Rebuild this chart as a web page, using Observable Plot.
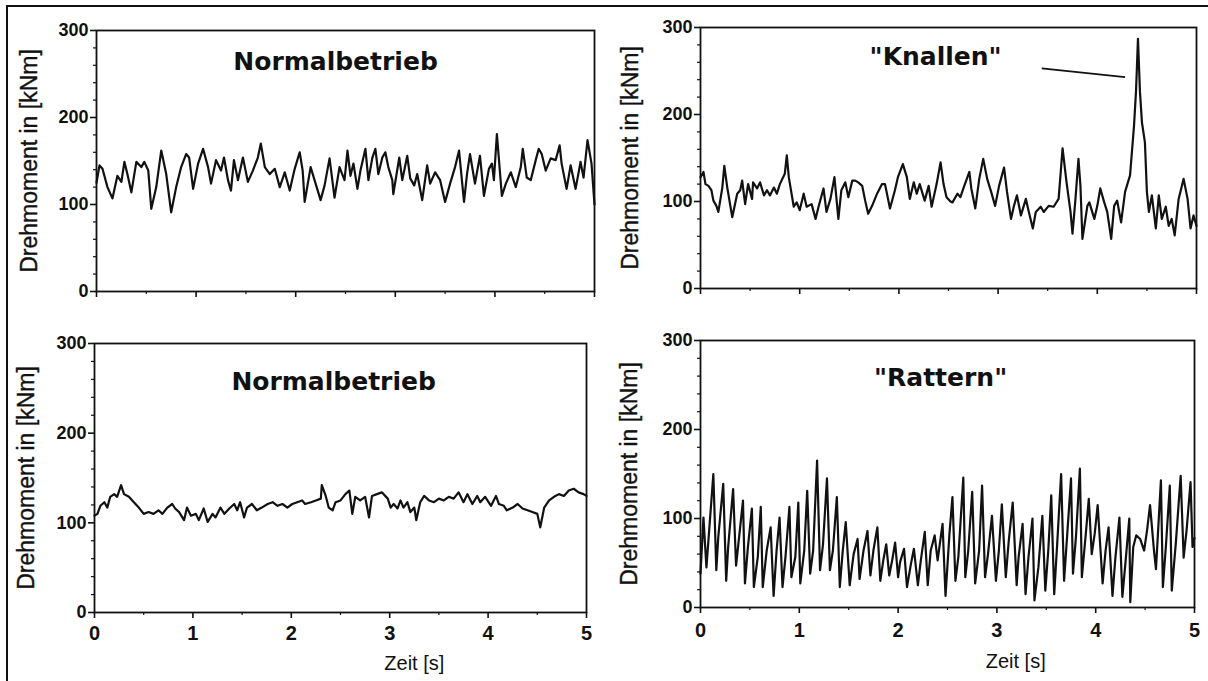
<!DOCTYPE html>
<html><head><meta charset="utf-8">
<script src="https://cdn.jsdelivr.net/npm/d3@7"></script>
<script src="https://cdn.jsdelivr.net/npm/@observablehq/plot@0.6"></script>
<style>
html,body{margin:0;padding:0;background:#fff;}
#page{position:relative;width:1208px;height:681px;overflow:hidden;background:#fff;}
.panel{position:absolute;}
.rule{position:absolute;background:#111;}
</style></head><body>
<div id="page">
<div class="rule" style="left:6px;top:5px;width:1202px;height:2px"></div>
<div class="rule" style="left:6px;top:5px;width:2px;height:676px"></div>
</div>
<script>
// ---------- data ----------
const yLabel = "Drehmoment in [kNm]";
const xLabel = "Zeit [s]";
const titles = ["Normalbetrieb", "\"Knallen\"", "Normalbetrieb", "\"Rattern\""];
const majorY = [0, 100, 200, 300];
const minorY = [20, 40, 60, 80, 120, 140, 160, 180, 220, 240, 260, 280];
const majorX = [0, 1, 2, 3, 4, 5];
const minorX = [0.5, 1.5, 2.5, 3.5, 4.5];

// top-left: Normalbetrieb
const tlTime = [0.00,0.03,0.06,0.11,0.16,0.21,0.25,0.28,0.31,0.35,0.40,0.45,0.48,0.52,0.55,0.60,0.65,0.70,0.75,0.80,0.85,0.90,0.93,0.97,1.02,1.07,1.12,1.15,1.20,1.25,1.28,1.32,1.35,1.38,1.42,1.47,1.52,1.57,1.62,1.65,1.69,1.74,1.79,1.84,1.89,1.94,1.99,2.04,2.07,2.09,2.15,2.20,2.25,2.29,2.34,2.39,2.44,2.49,2.52,
  2.55,2.58,2.62,2.65,2.70,2.73,2.77,2.80,2.83,2.87,2.90,2.93,2.97,2.98,3.04,3.07,3.12,3.15,3.19,3.22,3.27,3.32,3.35,3.40,3.45,3.50,3.55,3.60,3.64,3.69,3.72,3.75,3.80,3.85,3.89,3.94,3.97,3.99,4.02,4.07,4.11,4.16,4.21,4.26,4.28,4.32,4.36,4.41,4.44,4.47,4.51,4.56,4.61,4.65,4.67,4.72,4.76,4.81,4.86,4.89,4.93,4.97,5.00];
const tlTorque = [125,145,141,120,107,133,126,149,135,114,149,143,149,139,95,120,162,135,91,120,143,158,154,118,147,164,143,124,151,139,154,128,116,151,128,154,126,139,154,170,143,135,141,120,137,116,141,160,139,103,143,124,105,122,153,108,143,128,162,
  133,147,118,139,164,128,154,164,135,154,160,143,128,112,154,128,156,130,122,135,105,145,124,137,128,103,124,143,162,103,135,158,124,156,110,141,147,128,181,110,124,137,120,143,164,131,128,151,164,158,139,153,151,168,147,118,145,118,149,131,174,147,100];

// top-right: "Knallen"
const trTime = [0.00,0.03,0.05,0.08,0.11,0.13,0.16,0.18,0.22,0.24,0.27,0.32,0.37,0.40,0.42,0.45,0.48,0.52,0.53,0.57,0.60,0.64,0.67,0.70,0.74,0.77,0.80,0.85,0.87,0.89,0.94,0.97,1.00,1.04,1.07,1.12,1.16,1.19,1.24,1.27,1.31,1.35,1.39,1.42,1.46,1.49,1.53,1.56,1.59,1.63,1.66,1.69,1.73,1.78,1.83,1.86,1.91,1.96,1.99,2.04,2.08,2.11,2.15,2.18,2.21,2.26,2.30,2.33,2.38,2.42,2.45,2.48,2.52,
  2.54,2.59,2.62,2.65,2.71,2.73,2.77,2.81,2.85,2.89,2.93,2.97,3.01,3.06,3.09,3.13,3.16,3.19,3.23,3.28,3.31,3.35,3.38,3.43,3.46,3.51,3.56,3.61,3.65,3.69,3.73,3.75,3.78,3.81,3.83,3.85,3.90,3.92,3.97,4.00,4.03,4.07,4.10,4.14,4.17,4.20,4.24,4.28,4.33,4.37,4.39,4.41,4.43,4.45,4.48,4.50,4.52,4.55,4.59,4.62,4.65,4.69,4.72,4.75,4.78,4.82,4.87,4.91,4.94,4.97,5.00];
const trTorque = [128,134,120,118,113,101,95,88,116,141,116,82,109,113,124,97,120,103,122,115,122,107,113,107,116,109,120,132,153,128,94,99,90,109,94,97,80,94,115,88,103,128,80,113,122,105,124,124,122,118,101,86,95,109,120,120,92,113,128,143,128,103,122,109,120,101,118,94,120,145,120,105,100,
  99,109,105,115,134,115,92,126,149,126,111,95,118,139,111,80,95,107,84,103,88,69,88,94,88,95,94,103,161,122,88,63,103,149,118,57,95,99,80,95,115,99,88,57,95,101,76,111,130,187,226,287,226,191,168,111,88,107,69,107,80,94,72,80,61,103,126,103,69,84,72];
const knallenPointer = [{t1: 3.44, v1: 253, t2: 4.28, v2: 243}];

// bottom-left: Normalbetrieb
const blTime = [0.00,0.03,0.06,0.10,0.13,0.16,0.20,0.23,0.27,0.30,0.35,0.40,0.45,0.50,0.55,0.60,0.65,0.69,0.74,0.79,0.82,0.86,0.91,0.94,0.98,1.03,1.06,1.11,1.15,1.20,1.23,1.28,1.32,1.37,1.42,1.45,1.48,1.52,1.55,1.60,1.65,1.70,1.76,1.81,1.86,1.91,1.96,2.01,2.06,2.11,2.14,2.20,2.25,2.30,2.31,2.35,2.38,2.42,2.45,
  2.50,2.55,2.59,2.62,2.65,2.70,2.75,2.79,2.82,2.87,2.92,2.98,3.01,3.04,3.08,3.11,3.14,3.18,3.21,3.25,3.27,3.31,3.35,3.40,3.45,3.50,3.55,3.60,3.65,3.70,3.75,3.79,3.84,3.89,3.92,3.97,4.03,4.08,4.11,4.16,4.19,4.25,4.30,4.35,4.40,4.45,4.50,4.53,4.57,4.62,4.67,4.72,4.77,4.82,4.87,4.92,4.97,5.00];
const blTorque = [108,110,119,123,117,129,132,129,142,132,129,123,117,110,112,110,114,110,117,121,116,112,103,117,108,110,103,116,101,110,106,117,110,116,121,114,123,106,117,121,114,117,121,123,119,121,117,121,123,125,121,123,125,127,142,130,117,114,123,
  125,132,136,110,129,125,129,106,130,132,134,127,117,121,116,125,117,123,112,117,103,123,130,125,123,127,125,129,127,134,123,132,121,130,123,129,119,130,121,119,114,117,121,116,114,112,110,95,117,125,129,132,130,136,138,134,132,130];

// bottom-right: "Rattern"
const brTime = [0.00,0.03,0.06,0.13,0.16,0.18,0.23,0.26,0.28,0.33,0.36,0.43,0.45,0.48,0.52,0.54,0.58,0.61,0.63,0.67,0.71,0.74,0.77,0.80,0.83,0.86,0.90,0.92,0.96,0.99,1.01,1.05,1.08,1.11,1.14,1.18,1.21,1.24,1.28,1.31,1.34,1.38,1.41,1.44,1.47,1.51,1.55,1.59,1.61,1.65,1.69,1.72,1.75,1.79,1.82,1.85,1.88,1.91,1.94,1.97,2.00,2.02,2.06,2.09,2.13,2.16,2.20,2.23,2.27,2.30,2.33,2.37,2.40,2.45,2.48,2.52,
  2.55,2.58,2.61,2.66,2.68,2.71,2.75,2.78,2.82,2.85,2.88,2.91,2.95,2.99,3.02,3.05,3.09,3.12,3.16,3.20,3.22,3.26,3.29,3.32,3.36,3.38,3.42,3.46,3.49,3.52,3.55,3.58,3.61,3.65,3.68,3.71,3.75,3.77,3.80,3.84,3.86,3.90,3.93,3.96,3.99,4.02,4.07,4.10,4.13,4.17,4.20,4.24,4.27,4.30,4.34,4.35,4.38,4.41,4.45,4.49,4.52,4.55,4.59,4.61,4.66,4.68,4.71,4.75,4.77,4.81,4.86,4.89,4.92,4.96,4.98,5.00];
const brTorque = [38,101,45,150,42,79,139,30,68,133,47,120,27,68,111,23,57,113,23,64,90,13,64,101,23,57,113,34,57,118,27,64,131,38,64,165,42,71,145,42,64,124,23,64,96,25,60,77,32,64,86,36,64,90,30,53,71,36,53,73,34,51,66,23,49,66,25,53,85,25,64,81,53,94,13,83,
  124,30,57,146,34,64,130,27,64,137,34,60,103,30,64,116,34,75,118,25,57,94,15,57,100,8,45,103,19,64,126,15,71,150,30,79,145,38,79,156,34,83,122,60,83,115,27,64,90,13,57,101,12,49,100,6,68,81,77,64,87,115,64,43,143,23,68,137,19,71,148,56,87,141,68,78];

// ---------- drawing ----------
const page = document.getElementById("page");
const ink = "#111";

function panel(cfg) {
  const data = cfg.time.map((t, i) => ({t, v: cfg.torque[i]}));
  const marks = [
    Plot.axisY(minorY, {label: null, tickSize: 3, tickFormat: () => "", stroke: ink, strokeWidth: 1.2}),
    Plot.axisY(majorY, {label: null, tickSize: 6, tickPadding: 2, stroke: ink, strokeWidth: 1.6,
      fontSize: 18, fontWeight: "bold", fontFamily: "Liberation Sans", fill: ink}),
    Plot.axisX(minorX, {label: null, tickSize: 3, tickFormat: () => "", stroke: ink, strokeWidth: 1.2}),
    Plot.axisX(majorX, {label: null, tickSize: 6, tickPadding: cfg.tickPad, stroke: ink, strokeWidth: 1.6,
      tickFormat: cfg.bottomLabels ? (d => String(d)) : (() => ""),
      fontSize: 20, fontWeight: "bold", fontFamily: "Liberation Sans", fill: ink}),
    Plot.frame({stroke: ink, strokeWidth: 1.8}),
    Plot.line(data, {x: "t", y: "v", stroke: ink, strokeWidth: 2.2, strokeLinejoin: "round"}),
    Plot.text([cfg.title], {x: cfg.titleX, y: cfg.titleY, text: d => d, fontSize: 25, fontWeight: "bold",
      fontFamily: "DejaVu Sans", fill: ink}),
    Plot.text([yLabel], {frameAnchor: "left", textAnchor: "middle", dx: cfg.yLabelDx, rotate: -90, text: d => d,
      fontSize: 23, fontFamily: "Liberation Sans", fill: ink, stroke: ink, strokeWidth: 0.4})
  ];
  if (cfg.bottomLabels) {
    marks.push(Plot.text([xLabel], {x: cfg.xLabelX, frameAnchor: "bottom", dy: cfg.xLabelDy, text: d => d,
      fontSize: 20, fontFamily: "Liberation Sans", fill: ink}));
  }
  if (cfg.pointer) {
    marks.push(Plot.link(cfg.pointer, {x1: "t1", y1: "v1", x2: "t2", y2: "v2", stroke: ink, strokeWidth: 1.8}));
  }
  const svg = Plot.plot({
    width: cfg.w, height: cfg.h,
    marginLeft: cfg.mL, marginRight: cfg.mR, marginTop: cfg.mT, marginBottom: cfg.mB,
    x: {domain: [0, 5]},
    y: {domain: [0, 300]},
    style: {background: "transparent", color: ink, overflow: "visible"},
    marks
  });
  const div = document.createElement("div");
  div.className = "panel";
  div.style.left = cfg.left + "px";
  div.style.top = cfg.top + "px";
  div.appendChild(svg);
  page.appendChild(div);
}

panel({time: tlTime, torque: tlTorque, title: titles[0], titleX: 2.40, titleY: 264,
  left: 0, top: 0, w: 604, h: 320, mL: 96, mR: 10, mT: 30, mB: 29,
  bottomLabels: false, tickPad: 8, yLabelDx: -67});
panel({time: trTime, torque: trTorque, title: titles[1], titleX: 2.37, titleY: 266, pointer: knallenPointer,
  left: 604, top: 0, w: 604, h: 320, mL: 96, mR: 12, mT: 27, mB: 32,
  bottomLabels: false, tickPad: 8, yLabelDx: -70});
panel({time: blTime, torque: blTorque, title: titles[2], titleX: 2.43, titleY: 257,
  left: 0, top: 320, w: 604, h: 361, mL: 94, mR: 18, mT: 23, mB: 69,
  bottomLabels: true, tickPad: 7, xLabelX: 3.25, xLabelDy: 57, yLabelDx: -68});
panel({time: brTime, torque: brTorque, title: titles[3], titleX: 2.43, titleY: 258,
  left: 604, top: 320, w: 604, h: 361, mL: 96, mR: 14, mT: 20, mB: 74,
  bottomLabels: true, tickPad: 9, xLabelX: 3.19, xLabelDy: 60, yLabelDx: -71});
</script>
</body></html>
